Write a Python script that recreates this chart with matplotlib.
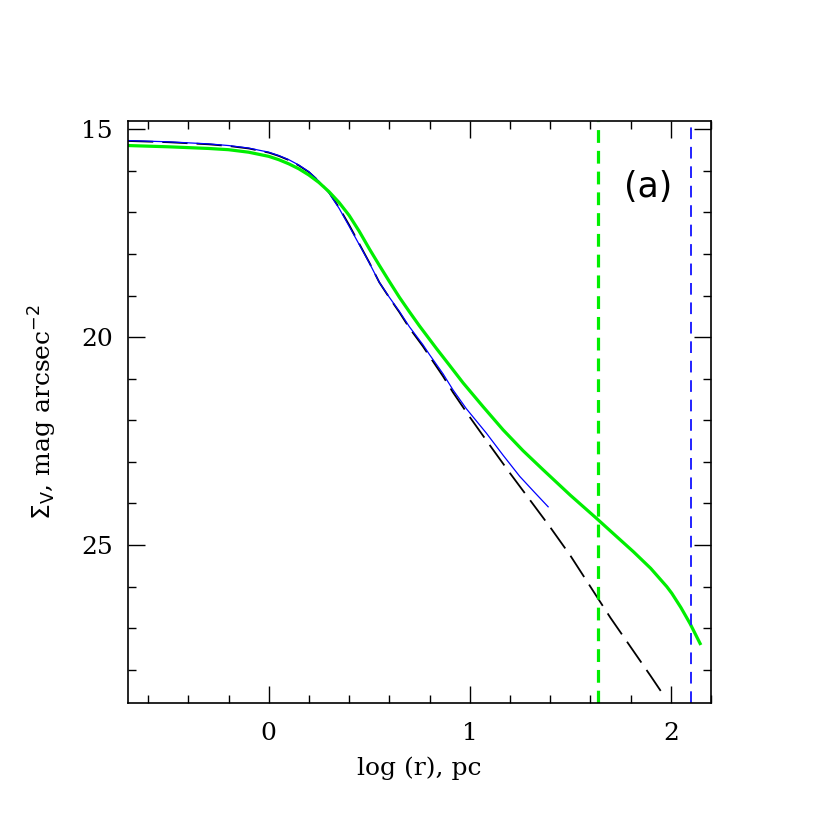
import matplotlib
matplotlib.use('Agg')
import matplotlib.pyplot as plt
from matplotlib.ticker import MultipleLocator

# profiles: log r (pc) vs surface brightness
x_model = [-0.7, -0.5, -0.3, -0.2, -0.1, 0.0, 0.05, 0.1, 0.15, 0.2, 0.25, 0.3, 0.35, 0.4,
           0.45, 0.5, 0.55, 0.6, 0.65, 0.7, 0.767, 0.8, 0.867, 0.917, 1.0, 1.1, 1.2, 1.3,
           1.4, 1.5, 1.6, 1.7, 1.8, 1.9, 1.971]
y_model = [15.28, 15.31, 15.36, 15.40, 15.46, 15.56, 15.64, 15.74, 15.87, 16.03, 16.25, 16.52,
           16.88, 17.3, 17.75, 18.2, 18.68, 19.05, 19.4, 19.78, 20.22, 20.46, 20.94, 21.33,
           21.92, 22.6, 23.27, 23.92, 24.57, 25.25, 26.0, 26.75, 27.45, 28.15, 28.66]

x_blue = [-0.7, -0.5, -0.3, -0.2, -0.1, 0.0, 0.05, 0.1, 0.15, 0.2, 0.25, 0.3, 0.35, 0.4,
          0.45, 0.5, 0.55, 0.6, 0.65, 0.7, 0.767, 0.8, 0.867, 0.917, 0.983, 1.083, 1.166,
          1.249, 1.32, 1.39]
y_blue = [15.27, 15.30, 15.35, 15.39, 15.45, 15.55, 15.63, 15.73, 15.86, 16.02, 16.25, 16.53,
          16.9, 17.33, 17.77, 18.21, 18.68, 19.04, 19.38, 19.75, 20.18, 20.42, 20.88, 21.27,
          21.72, 22.31, 22.84, 23.35, 23.72, 24.08]

x_green = [-0.7, -0.5, -0.3, -0.2, -0.1, 0.0, 0.05, 0.1, 0.15, 0.2, 0.25, 0.3, 0.35, 0.4,
           0.45, 0.5, 0.55, 0.6, 0.65, 0.7, 0.75, 0.834, 0.9, 0.967, 1.066, 1.166, 1.265,
           1.365, 1.5, 1.631, 1.72, 1.814, 1.9, 1.98, 2.005, 2.05, 2.096, 2.146]
y_green = [15.39, 15.42, 15.46, 15.49, 15.55, 15.65, 15.73, 15.83, 15.95, 16.1, 16.28, 16.5,
           16.76, 17.07, 17.45, 17.87, 18.27, 18.66, 19.04, 19.39, 19.73, 20.27, 20.68, 21.1,
           21.67, 22.23, 22.73, 23.19, 23.8, 24.36, 24.75, 25.16, 25.56, 26.0, 26.16, 26.5,
           26.89, 27.37]

r_green = 1.64
r_blue = 2.1

plt.rcParams['font.family'] = ['DejaVu Serif']
fig = plt.figure(figsize=(8.3, 8.3), dpi=100)
ax = fig.add_axes([0.1542, 0.153, 0.7024, 0.7012])

ax.plot(x_model, y_model, color='black', lw=1.3, dashes=(14, 5))
ax.plot(x_blue, y_blue, color='blue', lw=0.9)
ax.plot(x_green, y_green, color='#00ee00', lw=2.3)
ax.axvline(r_green, color='#00ee00', lw=2.3, dashes=(4, 2.5))
ax.axvline(r_blue, color='#2222ff', lw=1.4, dashes=(6, 4))

ax.set_xlim(-0.7, 2.2)
ax.set_ylim(28.8, 14.8)
ax.xaxis.set_major_locator(MultipleLocator(1))
ax.xaxis.set_minor_locator(MultipleLocator(0.2))
ax.yaxis.set_major_locator(MultipleLocator(5))
ax.yaxis.set_minor_locator(MultipleLocator(1))
ax.tick_params(which='both', direction='in', top=True, right=True, width=1, labelsize=18)
ax.tick_params(axis='x', which='major', length=12, pad=14)
ax.tick_params(axis='y', which='major', length=12, pad=11)
ax.tick_params(which='minor', length=6)
for s in ax.spines.values():
    s.set_linewidth(1.2)

ax.set_xlabel('log (r), pc', fontsize=18, labelpad=8)
ax.set_ylabel(r'$\Sigma_{\rm V}$, mag arcsec$^{-2}$', fontsize=18, labelpad=16)
ax.text(0.892, 0.887, '(a)', transform=ax.transAxes, fontsize=25, family='DejaVu Sans',
        ha='center', va='center')

fig.savefig('out.png', dpi=100)
